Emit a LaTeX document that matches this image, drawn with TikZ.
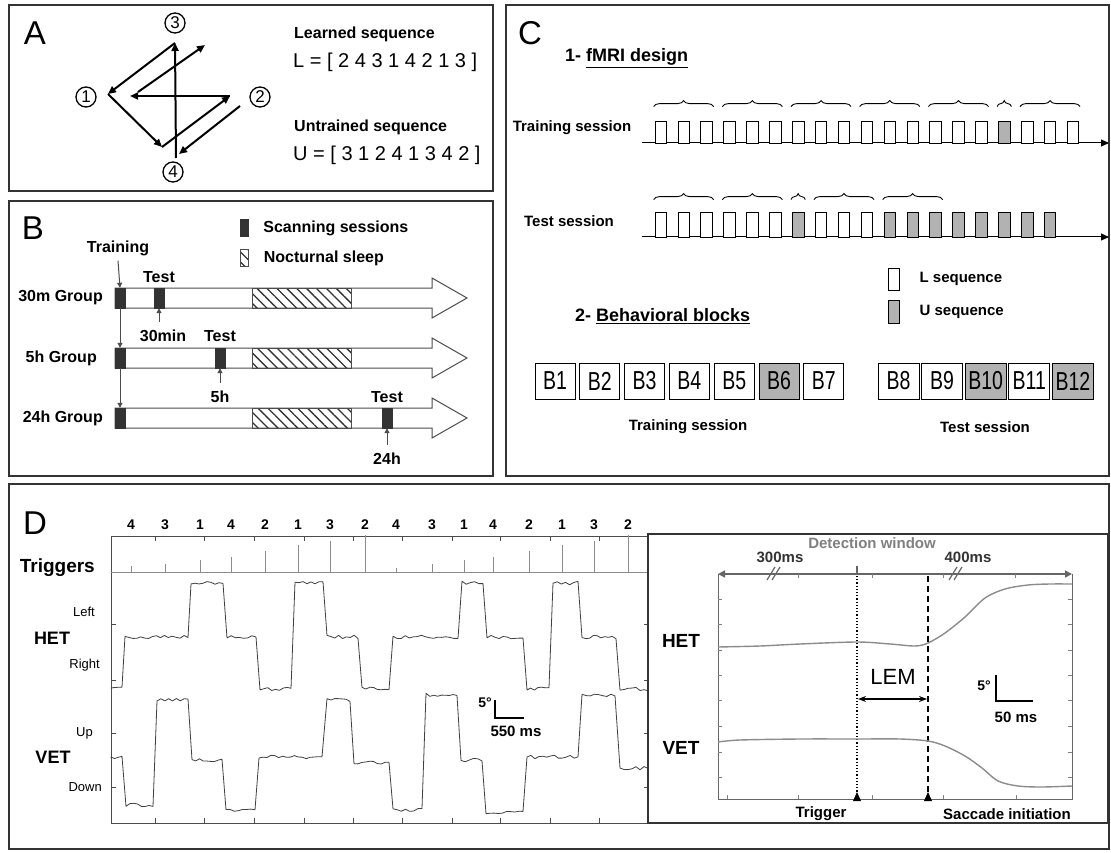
\documentclass[tikz,border=0pt]{standalone}
\usepackage{fontspec}
\setmainfont{Liberation Sans}
\newfontfamily\narrowsf[FakeStretch=0.75]{Liberation Sans}
\usepackage{tikz}
\usetikzlibrary{arrows.meta,positioning,decorations.pathreplacing,patterns.meta}

\newcommand\fsz[1]{\fontsize{#1}{#1}\selectfont}

\begin{document}
\begin{tikzpicture}[x=1pt,y=-1pt,
  panel/.style={draw=black!80, line width=1.3pt},
  big/.style={font=\fsz{33}, inner sep=0pt},
  lab/.style={font=\bfseries\fsz{15}, inner sep=0pt},
  head/.style={font=\bfseries\fsz{18}, inner sep=0pt, anchor=west},
  seq/.style={font=\fsz{20}, inner sep=0pt, anchor=west},
  circnum/.style={circle, draw, line width=1.3pt, minimum size=20pt, inner sep=0pt, font=\fsz{17}},
  move/.style={line width=2pt, -{Triangle[length=8pt,width=7pt]}},
  scan/.style={fill=black!80, draw=black!80, inner sep=0pt, minimum width=10pt, minimum height=20pt},
  sleep/.style={draw=black!70, line width=0.8pt, pattern={Lines[angle=-45,distance=7pt,line width=1.3pt]}, pattern color=black!80},
  timeline/.style={draw=black!70, line width=1pt, fill=white},
  gap/.style={draw=black!70, line width=1pt, -{Triangle[length=5pt,width=5pt]}},
  axis/.style={line width=1pt, -{Triangle[length=8pt,width=7pt]}},
  pulse/.style={draw, line width=0.8pt, inner sep=0pt, minimum width=11.5pt},
  brc/.style={decorate, decoration={brace, amplitude=6pt}, line width=0.9pt},
  blk/.style={draw, line width=0.8pt, inner sep=0pt, minimum height=36pt, font=\narrowsf\fsz{26}},
  frame/.style={draw=black!70, line width=1pt},
  tick/.style={black!70, line width=1pt},
  trace/.style={black!75, line width=0.8pt, line join=round},
  trig/.style={black!45, line width=1pt},
  trace2/.style={black!45, line width=1.4pt},
  small/.style={font=\fsz{13}, inner sep=0pt}
]
\useasboundingbox (0,0) rectangle (1111,853);
\fill[white] (0,0) rectangle (1111,853);

% ---- A: sequences
\draw[panel] (9,5) rectangle (493,191);
\node[big] (la) at (35,33) {A};
\node[circnum] (c1) at (86,97) {1};
\node[circnum] (c2) at (260,97) {2};
\node[circnum] (c3) at (175,23) {3};
\node[circnum] (c4) at (173,172) {4};
\coordinate (v1) at (108,94);
\coordinate (v1b) at (130,96);
\coordinate (v1c) at (138,92);
\coordinate (v2) at (230,96);
\coordinate (v2b) at (240,106);
\coordinate (v3) at (175,43);
\coordinate (v3b) at (205,45);
\coordinate (v4) at (176,158);
\coordinate (v4b) at (162,147);
\coordinate (v4c) at (179,154);
\draw[move] (v2b) -- (v4c);
\draw[move] (v4) -- (v3);
\draw[move] (v3) -- (v1);
\draw[move] (v1) -- (v4b);
\draw[move] (v4b) -- (v2);
\draw[move] (v2) -- (v1b);
\draw[move] (v1c) -- (v3b);
\node[lab, font=\bfseries\fsz{16}, anchor=west] (lrn) at (294,34) {Learned sequence};
\node[seq] (lseq) at (293,62) {L = [ 2 4 3 1 4 2 1 3 ]};
\node[lab, font=\bfseries\fsz{16}, anchor=west] (unt) at (294,127) {Untrained sequence};
\node[seq] (useq) at (293,155) {U = [ 3 1 2 4 1 3 4 2 ]};

% ---- B: groups
\draw[panel] (9,201) rectangle (493,476);
\node[big] (lb) at (33,228) {B};
\node[scan, minimum width=8pt, minimum height=17pt] (lscan) at (244,228) {};
\node[lab, font=\bfseries\fsz{16}, right=15pt of lscan] (tscan) {Scanning sessions};
\node[sleep, inner sep=0pt, minimum width=8pt, minimum height=17pt] (lsleep) at (244,258) {};
\node[lab, font=\bfseries\fsz{16}, right=15pt of lsleep] (tsleep) {Nocturnal sleep};
\foreach \y in {298,358,418} {
  \draw[timeline] (115,\y-10) -- (432,\y-10) -- (432,\y-20) -- (467,\y)
    -- (432,\y+20) -- (432,\y+10) -- (115,\y+10) -- cycle;
  \draw[sleep] (252,\y-10) rectangle (351,\y+10);
}
\node[scan] (tr1) at (120,298) {};
\node[scan] (tr2) at (120,358) {};
\node[scan] (tr3) at (120,418) {};
\node[scan] (te1) at (159,298) {};
\node[scan] (te2) at (220,358) {};
\node[scan] (te3) at (387,418) {};
\node[lab, font=\bfseries\fsz{16}, anchor=east] (g1) at (103,298) {30m Group};
\node[lab, font=\bfseries\fsz{16}, anchor=east] (g2) at (97,358) {5h Group};
\node[lab, font=\bfseries\fsz{16}, anchor=east] (g3) at (103,418) {24h Group};
\node[lab, font=\bfseries\fsz{16}] (trn) at (118,248) {Training};
\node[lab, font=\bfseries\fsz{16}] (t1) at (159,277) {Test};
\node[lab, font=\bfseries\fsz{16}] (t2) at (220,336) {Test};
\node[lab, font=\bfseries\fsz{16}] (t3) at (387,397) {Test};
\node[lab, font=\bfseries\fsz{16}] (m30) at (163,336) {30min};
\node[lab, font=\bfseries\fsz{16}] (h5) at (220,397) {5h};
\node[lab, font=\bfseries\fsz{16}] (h24) at (387,459) {24h};
\draw[gap] ([yshift=-5pt]trn.south) -- (tr1.north);
\draw[gap] (tr1.south) -- (tr2.north);
\draw[gap] (tr2.south) -- (tr3.north);
\draw[gap] ([yshift=8pt]m30.north -| te1) -- (te1.south);
\draw[gap] ([yshift=8pt]h5.north) -- (te2.south);
\draw[gap] ([yshift=8pt]h24.north) -- (te3.south);

% ---- C: design
\draw[panel] (506,5) rectangle (1109,476);
\node[big] (lc) at (530,33) {C};
\node[head] (fmri) at (565,58) {1- \underline{fMRI design}};
\node[lab] (trs) at (572,128) {Training session};
\node[lab] (tss) at (569,221) {Test session};
\draw[axis] (642,143) -- (1109,143);
\draw[axis] (642,237) -- (1109,237);
\foreach \i in {0,...,18} {
  \ifnum\i=15 \def\c{black!30}\else\def\c{white}\fi
  \node[pulse, fill=\c, minimum height=22pt] (pa\i) at (660.75+22.9*\i,132) {};
}
\foreach \i in {0,...,17} {
  \ifnum\i=6 \def\c{black!30}\else\ifnum\i>9 \def\c{black!30}\else\def\c{white}\fi\fi
  \node[pulse, fill=\c, minimum height=25pt] (pb\i) at (660.75+22.9*\i,224.5) {};
}
\foreach \p/\q in {0/2,3/5,6/8,9/11,12/14,15/15,16/18}
  \draw[brc] ([xshift=-1pt,yshift=14pt]pa\p.north west) -- ([xshift=1pt,yshift=14pt]pa\q.north east);
\foreach \p/\q in {0/2,3/5,6/6,7/9,10/12}
  \draw[brc] ([xshift=-1pt,yshift=12pt]pb\p.north west) -- ([xshift=1pt,yshift=12pt]pb\q.north east);
\node[pulse, fill=white, minimum width=11pt, minimum height=22pt] (legl) at (893.5,279) {};
\node[lab, right=20pt of legl] (tlegl) {L sequence};
\node[pulse, fill=black!30, minimum width=11pt, minimum height=23pt] (legu) at (893.5,311.5) {};
\node[lab, right=20pt of legu] (tlegu) {U sequence};
\node[head] (beh) at (575,316) {2- \underline{Behavioral blocks}};
\foreach \i in {1,...,7} {
  \ifnum\i=6 \def\c{black!30}\else\def\c{white}\fi
  \node[blk, fill=\c, minimum width=40pt] (blk\i) at (555+44.8*\i-44.8,381) {B\i};
}
\foreach \i in {8,...,12} {
  \ifodd\i \def\c{white}\else\ifnum\i>9 \def\c{black!30}\else\def\c{white}\fi\fi
  \node[blk, fill=\c, minimum width=41pt] (blk\i) at (898.5+43.6*\i-348.8,381) {B\i};
}
\node[lab] (trb) at (688,427) {Training session};
\node[lab] (tsb) at (985,427) {Test session};

% ---- D: eye traces
\draw[panel] (9,484) rectangle (1109,849);
\node[big] (ld) at (35,523) {D};
\draw[frame] (111,536) rectangle (649,823);
\foreach \x/\d/\h [count=\i] in {131/4/6,165/3/8,200/1/12,231/4/15,265/2/21,298/1/27,330/3/31,365/2/37,
    396/4/4,432/3/8,464/1/12,493/4/15,529/2/21,562/1/27,594/3/31,628/2/37} {
  \node[lab, font=\bfseries\fsz{14}] (n\i) at (\x,525) {\d};
  \draw[trig] (\x,572) -- ++(0,-\h);
}
\draw[trig] (111,572) -- (649,572);
\foreach \x in {155,204,254,304,353,402,452,500,550,599} {
  \draw[tick] (\x,536) -- ++(0,5);
  \draw[tick] (\x,823) -- ++(0,-5);
}
\foreach \y in {624,680,733,787} {
  \draw[tick] (111,\y) -- ++(5,0);
  \draw[tick] (649,\y) -- ++(-5,0);
}
\pgfmathsetseed{11}
\draw[trace] (111,688)
  \foreach \a/\b/\lv/\n in {111/122/688/3,125/188/637/16,191/223/583/8,227/256/637/7,260/291/689/8,
      295/323/583/7,327/358/637/8,362/389/689/7,393/458/637/16,462/483/583/5,487/523/637/9,
      527/549/689/6,553/578/583/6,582/616/637/9,620/648/689/7}
    {\foreach \j in {0,...,\n} { -- ({\a+\j*(\b-\a)/\n},{\lv+1.8*rand}) }};
\draw[trace] (111,758)
  \foreach \a/\b/\lv/\n in {111/122/758/3,126/153/805/7,157/188/700/8,192/222/760/8,226/255/810/7,
      259/322/757/16,327/350/700/6,354/389/763/9,393/422/810/7,426/457/695/8,461/482/760/5,
      486/523/813/9,527/578/757/13,582/615/695/8,620/648/768/7}
    {\foreach \j in {0,...,\n} { -- ({\a+\j*(\b-\a)/\n},{\lv+1.8*rand}) }};
\node[lab, font=\bfseries\fsz{19}, anchor=east] (ltrig) at (95,568) {Triggers};
\node[small, anchor=east] (lleft) at (95,612) {Left};
\node[lab, font=\bfseries\fsz{18}] (lhet) at (52,638) {HET};
\node[small, anchor=east] (lright) at (100,665) {Right};
\node[small, anchor=east] (lup) at (93,733) {Up};
\node[lab, font=\bfseries\fsz{18}] (lvet) at (53,757) {VET};
\node[small, anchor=east] (ldown) at (102,787) {Down};
\node[lab, font=\bfseries\fsz{14}] (deg1) at (485,703) {5°};
\draw[line width=1.5pt] (495,700) -- (495,718) -- (524,718);
\node[lab] (ms550) at (516,731) {550 ms};

% inset: detection window
\draw[panel, line width=1.2pt, fill=white] (648,534) rectangle (1108,823);
\node[lab, text=black!50] (detw) at (872,543) {Detection window};
\node[lab, text=black!80] (ms300) at (780,557) {300ms};
\node[lab, text=black!80] (ms400) at (968,557) {400ms};
\draw[black!60, line width=1.5pt, {Triangle[length=7pt,width=7pt]}-{Triangle[length=7pt,width=7pt]}] (718,574) -- (1072,574);
\draw[black!60, line width=2pt] (857,566) -- (857,574);
\foreach \x in {771,953} {
  \draw[black!60, line width=1.2pt] (\x-4,580) -- (\x+4,567);
  \draw[black!60, line width=1.2pt] (\x+1,580) -- (\x+9,567);
}
\draw[frame, black!60] (718,574) -- (718,799) -- (1072,799) -- (1072,574);
\foreach \y in {599,624,650,675,700,726,752,777} {
  \draw[tick, black!50] (718,\y) -- ++(4,0);
  \draw[tick, black!50] (1072,\y) -- ++(-4,0);
}
\foreach \x in {727,798,872,943,1016} \draw[tick, black!50] (\x,799) -- ++(0,-4);
\foreach \x in {798,872,943,1015} \draw[tick, black!50] (\x,574) -- ++(0,4);
\coordinate (trg) at (857,799);
\coordinate (sac) at (928,799);
\draw[dotted, line width=1.2pt] (857,576) -- (trg);
\draw[line width=1.6pt, dash pattern=on 6pt off 4pt] (928,576) -- (sac);
\fill (trg) ++(-4,2) -- ++(8,0) -- ++(-4,-9) -- cycle;
\fill (sac) ++(-4,2) -- ++(8,0) -- ++(-4,-9) -- cycle;
\draw[trace2] plot[smooth] coordinates {(718,647) (760,646) (800,644) (857,642) (890,644) (915,646)
  (928,643) (945,633) (965,617) (985,598) (1005,589) (1028,585) (1050,584) (1072,584)};
\draw[trace2] plot[smooth] coordinates {(718,742) (740,740) (800,739) (857,739) (900,739) (928,741)
  (945,746) (965,756) (982,768) (998,781) (1018,786) (1042,787) (1072,786)};
\node[lab, font=\bfseries\fsz{19}] (ihet) at (681,641) {HET};
\node[lab, font=\bfseries\fsz{19}] (ivet) at (681,748) {VET};
\node[font=\fsz{22}, inner sep=0pt] (lem) at (893,677) {LEM};
\draw[line width=1.3pt, {Stealth[length=8pt,width=6pt]}-{Stealth[length=8pt,width=6pt]}] (858,699) -- (927,699);
\node[lab, font=\bfseries\fsz{14}] (deg2) at (984,686) {5°};
\draw[line width=2pt] (996,675) -- (996,701) -- (1033,701);
\node[lab] (ms50) at (1016,717) {50 ms};
\node[lab] (ltrg) at (821,814) {Trigger};
\node[lab] (lsac) at (1007,814) {Saccade initiation};
\end{tikzpicture}
\end{document}
